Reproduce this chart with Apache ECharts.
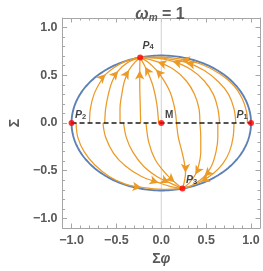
<!DOCTYPE html>
<html><head><meta charset="utf-8">
<script src="https://cdn.jsdelivr.net/npm/echarts@6/dist/echarts.min.js"></script>
<style>html,body{margin:0;padding:0;background:#fff}#c{width:263px;height:271px}</style>
</head><body><div id="c"></div>
<script>
// ---- data ----
const axisMin = -1.1, axisMax = 1.1;
const majorTicks = [-1, -0.5, 0, 0.5, 1];
const minorTicks = [-1.1,-0.9,-0.8,-0.7,-0.6,-0.4,-0.3,-0.2,-0.1,0.1,0.2,0.3,0.4,0.6,0.7,0.8,0.9,1.1];
const ellipseSemiAxes = [1, 0.707];
const pointNames = ['P1','P2','M','P3','P4'];
const pointX = [1, -1, 0, 0.236, -0.236];
const pointY = [0, 0, 0, -0.687, 0.687];
const dashedLineX = [-1, 1];

// upper trajectories -> P4
const U1 = [[-0.80,0],[-0.79,0.15],[-0.75,0.30],[-0.68,0.43],[-0.62,0.51],[-0.52,0.585],[-0.40,0.645],[-0.30,0.675],[-0.236,0.687]];
const U2 = [[-0.63,0],[-0.62,0.15],[-0.59,0.30],[-0.55,0.43],[-0.48,0.545],[-0.38,0.63],[-0.236,0.687]];
const U3 = [[-0.46,0],[-0.46,0.15],[-0.44,0.30],[-0.41,0.44],[-0.36,0.555],[-0.29,0.64],[-0.236,0.687]];
const U4 = [[-0.23,0],[-0.235,0.2],[-0.24,0.4],[-0.24,0.55],[-0.236,0.687]];
const U5 = [[-0.03,0],[-0.05,0.2],[-0.09,0.38],[-0.14,0.51],[-0.18,0.59],[-0.236,0.687]];
const U6 = [[0.17,0],[0.15,0.15],[0.10,0.32],[0.02,0.46],[-0.06,0.56],[-0.15,0.64],[-0.236,0.687]];
const U7 = [[0.43,0],[0.42,0.15],[0.37,0.30],[0.28,0.44],[0.14,0.56],[-0.04,0.64],[-0.236,0.687]];
const U8 = [[0.65,0],[0.63,0.15],[0.58,0.30],[0.48,0.44],[0.33,0.56],[0.13,0.645],[-0.05,0.68],[-0.236,0.687]];
const U9 = [[0.83,0],[0.81,0.15],[0.75,0.30],[0.64,0.43],[0.48,0.55],[0.28,0.635],[0.05,0.675],[-0.236,0.687]];
const U10 = [[0.96,0],[0.95,0.12],[0.90,0.26],[0.81,0.39],[0.66,0.51],[0.46,0.61],[0.22,0.668],[0.0,0.69],[-0.236,0.687]];
// lower trajectories -> P3
const L1 = [[-0.95,0],[-0.93,-0.15],[-0.86,-0.30],[-0.74,-0.44],[-0.58,-0.56],[-0.40,-0.64],[-0.22,-0.675],[0.02,-0.695],[0.236,-0.687]];
const L2 = [[-0.65,0],[-0.62,-0.15],[-0.53,-0.32],[-0.40,-0.45],[-0.22,-0.56],[-0.03,-0.625],[0.12,-0.67],[0.236,-0.687]];
const L3 = [[-0.42,0],[-0.39,-0.15],[-0.32,-0.30],[-0.20,-0.45],[-0.05,-0.56],[0.09,-0.625],[0.236,-0.687]];
const L4 = [[-0.17,0],[-0.14,-0.2],[-0.07,-0.38],[0.04,-0.52],[0.15,-0.62],[0.236,-0.687]];
const L5 = [[0.17,0],[0.19,-0.15],[0.23,-0.30],[0.26,-0.43],[0.27,-0.52],[0.26,-0.60],[0.236,-0.687]];
const L6 = [[0.43,0],[0.44,-0.15],[0.44,-0.30],[0.42,-0.43],[0.38,-0.54],[0.31,-0.63],[0.236,-0.687]];
const L7 = [[0.63,0],[0.63,-0.15],[0.61,-0.30],[0.56,-0.45],[0.48,-0.56],[0.36,-0.645],[0.236,-0.687]];
const L8 = [[0.81,0],[0.80,-0.15],[0.76,-0.30],[0.69,-0.42],[0.58,-0.53],[0.44,-0.615],[0.30,-0.67],[0.236,-0.687]];

const curves = [U1,U2,U3,U4,U5,U6,U7,U8,U9,U10,L1,L2,L3,L4,L5,L6,L7,L8];
const arrowIndex = [4,4,4,3,4,4,5,5,5,6, 6,5,5,4,4,4,4,5];

// ---- chart ----
const ORANGE = '#EC9A26', BLUE = '#5E81B5', FRAME = '#a6a6a6', TXT = '#595959';
const FONT = 'Liberation Sans, Arial, sans-serif';
const chart = echarts.init(document.getElementById('c'), null, {renderer:'canvas'});

function fmt(v){ const s = Math.abs(v).toFixed(1); return v < 0 ? '\u2212' + s : s; }

function axisPair(dim, pos, withLabel){
  const base = {
    type:'value', min:axisMin, max:axisMax, position:pos, gridIndex:0,
    splitLine:{show:false},
  };
  const major = Object.assign({}, base, {
    axisLine:{show:true, onZero:false, lineStyle:{color:FRAME, width:1}},
    axisTick:{show:true, inside:true, length:4.5, customValues:majorTicks, lineStyle:{color:FRAME}},
    axisLabel: withLabel ? {show:true, customValues:majorTicks, formatter:fmt, color:TXT, fontSize:12.5, fontWeight:'bold', fontFamily:FONT, margin: dim==='x'?6:5} : {show:false},
  });
  const minor = Object.assign({}, base, {
    axisLine:{show:false, onZero:false},
    axisTick:{show:true, inside:true, length:2.5, customValues:minorTicks, lineStyle:{color:FRAME}},
    axisLabel:{show:false},
  });
  return [major, minor];
}

const xAxes = axisPair('x','bottom',true).concat(axisPair('x','top',false));
const yAxes = axisPair('y','left',true).concat(axisPair('y','right',false));
xAxes[0].name = '{a|Σ}{b|φ}';
xAxes[0].nameLocation = 'middle';
xAxes[0].nameGap = 24;
xAxes[0].nameTextStyle = {color:TXT, fontFamily:FONT, rich:{a:{fontSize:14, fontWeight:'bold', color:TXT, fontFamily:FONT}, b:{fontSize:14, fontWeight:'bold', fontStyle:'italic', color:TXT, fontFamily:FONT}}};
yAxes[0].name = 'Σ';
yAxes[0].nameLocation = 'middle';
yAxes[0].nameGap = 35;
yAxes[0].nameRotate = 90;
yAxes[0].nameTextStyle = {color:TXT, fontSize:14, fontWeight:'bold', fontFamily:FONT};

const series = [];
// vertical axis line at x = 0
series.push({type:'line', data:[[0,axisMin],[0,axisMax]], symbol:'none', silent:true,
  lineStyle:{color:'#d2d2d2', width:1}, z:1});
// ellipse
series.push({type:'custom', data:[[0,0]], silent:true, z:3,
  renderItem:function(params, api){
    const pts = [];
    for(let k=0;k<=240;k++){
      const t = k/240*Math.PI*2;
      pts.push(api.coord([ellipseSemiAxes[0]*Math.cos(t), ellipseSemiAxes[1]*Math.sin(t)]));
    }
    return {type:'polyline', shape:{points:pts}, style:{stroke:BLUE, lineWidth:1.9, fill:null}};
  }});
// trajectories
curves.forEach(function(c, ci){
  const ai = arrowIndex[ci];
  const data = c.map(function(p, i){
    if(i !== ai) return {value:p, symbol:'none'};
    const prev = c[i-1], next = c[i+1];
    const ang = Math.atan2(next[1]-prev[1], next[0]-prev[0]) * 180/Math.PI - 90;
    return {value:p, symbol:'arrow', symbolSize:[7,9], symbolRotate:ang,
      itemStyle:{color:ORANGE, borderWidth:0}};
  });
  series.push({type:'line', data:data, smooth:0.35, showSymbol:true, showAllSymbol:true, symbol:'none',
    silent:true, z:4, lineStyle:{color:ORANGE, width:1.25}, itemStyle:{color:ORANGE}});
});
// dashed invariant line
series.push({type:'line', data:dashedLineX.map(function(x){return [x,0];}), symbol:'none', silent:true, z:5,
  lineStyle:{color:'#1a1a1a', width:1.5, type:[5,3]}});
// fixed points
const labelOffsets = {P1:[-9,-8], P2:[9,-8], M:[8,-8], P3:[9,-9], P4:[8,-12]};
series.push({type:'scatter', z:6, silent:true, symbolSize:6,
  itemStyle:{color:'#ff0000'},
  data:pointNames.map(function(n,i){
    const txt = n === 'M' ? '{m|M}' : '{p|P}{s|' + n.slice(1) + '}';
    return {value:[pointX[i], pointY[i]],
      label:{show:true, position:'inside', offset:labelOffsets[n], formatter:txt,
        rich:{
          p:{fontSize:10.5, fontStyle:'italic', fontWeight:'bold', color:'#111', fontFamily:FONT, verticalAlign:'bottom', lineHeight:12},
          s:{fontSize:7.5, fontWeight:'bold', color:'#111', fontFamily:FONT, verticalAlign:'bottom', lineHeight:8},
          m:{fontSize:10, fontWeight:'bold', color:'#111', fontFamily:FONT}
        }}};
  })});

chart.setOption({
  animation:false,
  backgroundColor:'#fff',
  title:{text:'{w|ω}{s|m}{n| = 1}', left:155, top:0, textAlign:'center',
    textStyle:{rich:{
      w:{fontSize:16, fontStyle:'italic', fontWeight:'bold', color:TXT, fontFamily:FONT, verticalAlign:'bottom', lineHeight:18},
      s:{fontSize:10, fontStyle:'italic', fontWeight:'bold', color:TXT, fontFamily:FONT, verticalAlign:'bottom', lineHeight:13},
      n:{fontSize:16, fontWeight:'bold', color:TXT, fontFamily:FONT, verticalAlign:'bottom', lineHeight:18}
    }}},
  grid:{left:49, right:3, top:18, bottom:40, containLabel:false},
  xAxis:xAxes,
  yAxis:yAxes,
  series:series
});
</script>
</body></html>
